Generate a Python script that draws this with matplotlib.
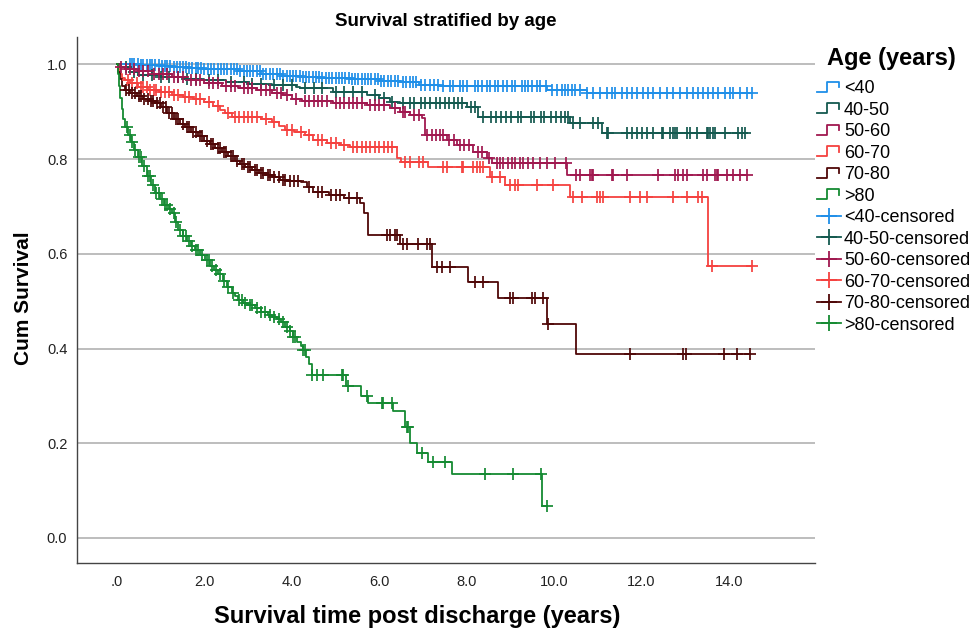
import numpy as np
import matplotlib
matplotlib.use("Agg")
import matplotlib.pyplot as plt
from matplotlib.lines import Line2D
from matplotlib.legend_handler import HandlerBase

plt.rcParams['font.family'] = ['Liberation Sans', 'DejaVu Sans']

# ---------------- data ----------------
groups = ["<40", "40-50", "50-60", "60-70", "70-80", ">80"]
colors = ["#1f8fe8", "#14594f", "#a0184f", "#f5413f", "#4f0707", "#158a32"]

# <40
t_lt40 = [0.5, 1.0, 1.26, 1.6, 2.0, 2.77, 3.3, 3.8, 4.19, 4.7, 5.33, 6.0, 6.48, 6.9, 7.39, 9.84, 10.75]
s_lt40 = [0.998, 0.996, 0.995, 0.992, 0.99, 0.987, 0.98, 0.976, 0.974, 0.971, 0.969, 0.966, 0.963, 0.957, 0.955, 0.946, 0.94]
c_lt40 = [0.3, 0.35, 0.4, 0.48, 0.55, 0.6, 0.68, 0.75, 0.8, 0.88, 0.95, 1.02, 1.1, 1.15, 1.22, 1.3, 1.38,
          1.45, 1.5, 1.58, 1.65, 1.72, 1.8, 1.85, 1.92, 2.0, 2.08, 2.15, 2.22, 2.3, 2.38, 2.45, 2.52, 2.6,
          2.68, 2.75, 2.82, 2.9, 2.98, 3.05, 3.12, 3.2, 3.28, 3.35, 3.42, 3.5, 3.58, 3.65, 3.72, 3.8, 3.88,
          3.95, 4.02, 4.1, 4.18, 4.25, 4.32, 4.4, 4.48, 4.55, 4.62, 4.7, 4.78, 4.85, 4.92, 5.0, 5.08, 5.15,
          5.22, 5.3, 5.38, 5.45, 5.52, 5.6, 5.68, 5.75, 5.82, 5.9, 5.98, 6.05, 6.12, 6.2, 6.28, 6.35, 6.42,
          6.55, 6.62, 6.7, 6.78, 6.85, 6.95, 7.05, 7.15, 7.25, 7.35, 7.46, 7.62, 7.69, 7.85, 7.92, 8.01,
          8.19, 8.26, 8.35, 8.47, 8.54, 8.65, 8.72, 8.83, 8.92, 9.04, 9.11, 9.27, 9.34, 9.41, 9.5, 9.61,
          9.68, 9.82, 9.95, 10.07, 10.18, 10.25, 10.32, 10.41, 10.48, 10.59, 10.76, 10.89, 11.05, 11.21,
          11.33, 11.4, 11.56, 11.67, 11.78, 11.9, 12.04, 12.15, 12.27, 12.43, 12.59, 12.72, 12.88, 13.04,
          13.18, 13.3, 13.41, 13.52, 13.64, 13.75, 13.91, 14.03, 14.1, 14.26, 14.42, 14.53]

# 40-50
t_40_50 = [0.1, 0.3, 0.48, 1.0, 1.5, 2.0, 2.5, 3.0, 3.55, 4.1, 4.19, 4.94, 5.72, 6.0, 6.25, 6.48, 8.0, 8.26, 10.37, 11.1]
s_40_50 = [0.995, 0.985, 0.978, 0.973, 0.97, 0.967, 0.962, 0.958, 0.957, 0.952, 0.95, 0.942, 0.936, 0.93, 0.921, 0.919, 0.91, 0.889, 0.876, 0.855]
c_40_50 = [0.2, 0.4, 0.6, 0.8, 1.0, 1.2, 1.4, 1.6, 1.8, 2.1, 2.3, 2.6, 2.9, 3.1, 3.3, 3.6, 3.8, 4.0, 4.3,
           4.5, 4.7, 5.0, 5.2, 5.4, 5.6, 5.9, 6.1, 6.3, 6.55, 6.7, 6.8, 6.95, 7.05, 7.15, 7.3, 7.4, 7.5,
           7.6, 7.7, 7.8, 7.9, 8.1, 8.2, 8.37, 8.55, 8.67, 8.78, 8.9, 9.02, 9.18, 9.25, 9.48, 9.55, 9.71,
           9.78, 9.94, 10.05, 10.16, 10.25, 10.32, 10.43, 10.59, 10.89, 11.0, 11.21, 11.23, 11.67, 11.78,
           11.9, 12.01, 12.13, 12.27, 12.47, 12.49, 12.65, 12.72, 12.77, 12.81, 13.04, 13.11, 13.27, 13.5,
           13.53, 13.57, 13.64, 13.68, 13.91, 14.21, 14.3, 14.37]

# 50-60
t_50_60 = [0.05, 0.18, 0.48, 0.8, 1.26, 1.6, 2.0, 2.4, 2.77, 3.2, 3.55, 3.8, 4.0, 4.23, 4.94, 5.72, 6.25,
           6.48, 6.7, 6.98, 7.05, 7.55, 7.78, 8.15, 8.47, 8.58, 10.3]
s_50_60 = [0.995, 0.99, 0.986, 0.98, 0.974, 0.968, 0.961, 0.955, 0.95, 0.945, 0.94, 0.935, 0.928, 0.923,
           0.919, 0.914, 0.908, 0.90, 0.893, 0.887, 0.851, 0.84, 0.83, 0.815, 0.802, 0.792, 0.767]
c_50_60 = [0.1, 0.2, 0.3, 0.4, 0.5, 0.6, 0.7, 0.85, 0.95, 1.05, 1.15, 1.3, 1.4, 1.5, 1.7, 1.8, 1.9, 2.1,
           2.2, 2.3, 2.5, 2.6, 2.7, 2.9, 3.0, 3.1, 3.3, 3.4, 3.5, 3.65, 3.75, 3.9, 4.1, 4.3, 4.4, 4.5, 4.6,
           4.7, 4.8, 5.0, 5.1, 5.2, 5.3, 5.4, 5.5, 5.6, 5.8, 5.9, 6.0, 6.1, 6.35, 6.55, 6.6, 6.8, 6.9,
           7.1, 7.2, 7.3, 7.4, 7.45, 7.6, 7.7, 7.85, 7.95, 8.05, 8.25, 8.35, 8.5, 8.7, 8.76, 8.83, 8.95,
           9.04, 9.11, 9.22, 9.29, 9.41, 9.52, 9.68, 9.84, 10.02, 10.27, 10.5, 10.59, 10.82, 10.87, 10.89,
           11.33, 11.35, 11.67, 12.38, 12.77, 12.84, 12.95, 13.04, 13.41, 13.5, 13.68, 13.73, 13.75,
           13.96, 14.1, 14.26, 14.42]

# 60-70
t_60_70 = [0.02, 0.06, 0.12, 0.18, 0.3, 0.48, 0.7, 0.95, 1.26, 1.5, 1.75, 2.0, 2.2, 2.35, 2.47, 2.63, 3.3,
           3.55, 3.7, 3.84, 4.05, 4.3, 4.49, 4.8, 5.1, 5.33, 6.4, 6.5, 7.12, 8.54, 8.88, 10.37, 13.52]
s_60_70 = [0.99, 0.98, 0.972, 0.967, 0.96, 0.952, 0.947, 0.942, 0.936, 0.931, 0.926, 0.921, 0.912, 0.904,
           0.898, 0.889, 0.884, 0.879, 0.87, 0.862, 0.857, 0.851, 0.84, 0.834, 0.829, 0.826, 0.802, 0.794,
           0.783, 0.762, 0.745, 0.72, 0.574]
c_60_70 = [0.25, 0.35, 0.45, 0.55, 0.6, 0.68, 0.75, 0.85, 0.9, 1.0, 1.1, 1.2, 1.3, 1.4, 1.55, 1.65, 1.8,
           1.9, 2.1, 2.3, 2.55, 2.7, 2.8, 2.9, 3.0, 3.1, 3.2, 3.4, 3.6, 3.9, 4.0, 4.2, 4.4, 4.6, 4.7, 4.9,
           5.0, 5.2, 5.4, 5.5, 5.6, 5.7, 5.8, 5.9, 6.0, 6.1, 6.2, 6.3, 6.6, 6.7, 6.9, 7.0, 7.46, 7.55,
           7.89, 7.92, 8.15, 8.24, 8.31, 8.38, 8.58, 8.76, 8.99, 9.11, 9.18, 9.61, 9.98, 10.43, 10.64,
           10.98, 11.05, 11.12, 11.74, 11.97, 12.13, 12.72, 13.04, 13.3, 13.39, 13.62, 14.53]

# 70-80
t_70_80 = [0.03, 0.07, 0.12, 0.18, 0.3, 0.45, 0.6, 0.75, 0.87, 1.0, 1.15, 1.3, 1.45, 1.56, 1.7, 1.85, 2.0,
           2.12, 2.24, 2.4, 2.55, 2.7, 2.82, 2.93, 3.1, 3.25, 3.4, 3.55, 3.73, 3.9, 4.2, 4.35, 4.49, 4.85,
           5.2, 5.55, 5.65, 5.74, 6.48, 7.2, 8.03, 8.72, 9.83, 10.5]
s_70_80 = [0.985, 0.97, 0.955, 0.946, 0.94, 0.934, 0.928, 0.923, 0.919, 0.91, 0.897, 0.884, 0.874, 0.868,
           0.858, 0.848, 0.838, 0.831, 0.824, 0.815, 0.806, 0.797, 0.79, 0.784, 0.777, 0.771, 0.766, 0.762,
           0.756, 0.754, 0.752, 0.741, 0.731, 0.724, 0.718, 0.707, 0.686, 0.64, 0.621, 0.572, 0.54, 0.507,
           0.452, 0.389]
c_70_80 = [0.2, 0.28, 0.35, 0.42, 0.5, 0.55, 0.62, 0.7, 0.78, 0.82, 0.92, 0.98, 1.05, 1.12, 1.2, 1.25,
           1.35, 1.4, 1.5, 1.6, 1.65, 1.75, 1.8, 1.9, 1.95, 2.05, 2.15, 2.2, 2.3, 2.35, 2.45, 2.5, 2.6,
           2.65, 2.75, 2.85, 2.9, 3.0, 3.05, 3.15, 3.2, 3.3, 3.35, 3.45, 3.5, 3.6, 3.7, 3.8, 3.85, 3.95,
           4.05, 4.15, 4.4, 4.6, 4.7, 4.9, 5.0, 5.1, 5.3, 5.5, 6.18, 6.25, 6.36, 6.41, 6.54, 6.64, 6.89,
           7.09, 7.16, 7.32, 7.44, 7.62, 8.19, 8.38, 8.99, 9.06, 9.5, 9.57, 9.75, 9.86, 11.74, 12.95,
           13.02, 13.89, 14.19, 14.49]

# >80
t_gt80 = [0.02, 0.05, 0.08, 0.11, 0.14, 0.18, 0.25, 0.33, 0.40, 0.48, 0.58, 0.68, 0.78, 0.87, 0.98, 1.08,
          1.18, 1.26, 1.33, 1.40, 1.50, 1.60, 1.70, 1.78, 1.90, 2.01, 2.12, 2.22, 2.31, 2.42, 2.52, 2.62,
          2.70, 2.77, 2.88, 3.00, 3.15, 3.30, 3.45, 3.55, 3.65, 3.75, 3.85, 3.95, 4.03, 4.12, 4.20, 4.26,
          4.33, 4.40, 4.46, 5.24, 5.58, 5.74, 6.32, 6.59, 6.70, 6.86, 7.12, 7.67, 9.72]
s_gt80 = [0.98, 0.955, 0.93, 0.905, 0.885, 0.868, 0.852, 0.836, 0.82, 0.805, 0.785, 0.765, 0.745, 0.729,
          0.715, 0.703, 0.694, 0.686, 0.668, 0.65, 0.638, 0.627, 0.617, 0.608, 0.597, 0.587, 0.575, 0.566,
          0.558, 0.543, 0.53, 0.518, 0.51, 0.503, 0.497, 0.492, 0.485, 0.478, 0.471, 0.467, 0.463, 0.456,
          0.446, 0.437, 0.425, 0.414, 0.405, 0.397, 0.383, 0.368, 0.344, 0.321, 0.30, 0.285, 0.268, 0.234,
          0.20, 0.18, 0.161, 0.135, 0.068]
c_gt80 = [0.22, 0.3, 0.35, 0.42, 0.5, 0.55, 0.62, 0.7, 0.75, 0.82, 0.9, 0.95, 1.02, 1.1, 1.15, 1.22, 1.3,
          1.36, 1.45, 1.52, 1.58, 1.65, 1.72, 1.8, 1.85, 1.95, 2.05, 2.1, 2.18, 2.26, 2.35, 2.45, 2.55,
          2.65, 2.8, 2.85, 2.92, 3.05, 3.1, 3.2, 3.3, 3.38, 3.5, 3.6, 3.7, 3.8, 3.89, 3.96, 4.03, 4.07,
          4.26, 4.30, 4.46, 4.58, 4.71, 5.15, 5.17, 5.29, 5.72, 6.06, 6.09, 6.29, 6.64, 6.66, 6.98, 7.23,
          7.51, 8.42, 9.06, 9.70, 9.84]

event_times = [t_lt40, t_40_50, t_50_60, t_60_70, t_70_80, t_gt80]
event_surv = [s_lt40, s_40_50, s_50_60, s_60_70, s_70_80, s_gt80]
censor_times = [c_lt40, c_40_50, c_50_60, c_60_70, c_70_80, c_gt80]

x_ticks = [0, 2, 4, 6, 8, 10, 12, 14]
y_ticks = [0.0, 0.2, 0.4, 0.6, 0.8, 1.0]

# ---------------- figure ----------------
fig = plt.figure(figsize=(9.75, 6.28), dpi=100)
ax = fig.add_axes([77/975, 1-563/628, (815-77)/975, (563-37)/628])

lw = 1.3
for name, col, te, se, tc in zip(groups, colors, event_times, event_surv, censor_times):
    te = np.asarray(te, float)
    se = np.asarray(se, float)
    tc = np.asarray(tc, float)
    tt = np.r_[0.0, te]
    ss = np.r_[1.0, se]
    tend = max(tt[-1], tc.max())
    ax.step(np.r_[tt, tend], np.r_[ss, ss[-1]], where='post', color=col, lw=lw, zorder=3)
    idx = np.searchsorted(tt, tc, side='right') - 1
    ax.plot(tc, ss[idx], linestyle='none', marker='+', color=col,
            markersize=8.5, markeredgewidth=1.25, zorder=4)

ax.set_xlim(-0.915, 15.97)
ax.set_ylim(-0.053, 1.058)
ax.set_xticks(x_ticks)
ax.set_xticklabels([f"{v:.1f}".lstrip('0') if v == 0 else f"{v:.1f}" for v in x_ticks])
ax.set_yticks(y_ticks)
ax.set_yticklabels([f"{v:.1f}" for v in y_ticks])
ax.tick_params(axis='both', length=0, labelsize=10.5, colors='#222222')
ax.tick_params(axis='y', pad=7)
ax.tick_params(axis='x', pad=9)
ax.yaxis.grid(True, color='#bdbdbd', lw=1.4)
ax.set_axisbelow(True)
for sp in ['top', 'right']:
    ax.spines[sp].set_visible(False)
for sp in ['left', 'bottom']:
    ax.spines[sp].set_color('#444444')
    ax.spines[sp].set_linewidth(1.0)

ax.set_title("Survival stratified by age", fontsize=13.5, fontweight='bold', pad=8)
ax.set_xlabel("Survival time post discharge (years)", fontsize=17, fontweight='bold')
ax.xaxis.set_label_coords((417-77)/738, -0.08)
ax.set_ylabel("Cum Survival", fontsize=15, fontweight='bold')
ax.yaxis.set_label_coords(-0.06, 0.504)


# ---------------- legend ----------------
class StepHandler(HandlerBase):
    def create_artists(self, legend, orig_handle, xdescent, ydescent, width, height, fontsize, trans):
        fx = np.array([0.0, 0.42, 0.42, 0.92, 0.92])
        fy = np.array([0.1, 0.1, 0.9, 0.9, 0.45])
        xs = fx * width - xdescent
        ys = fy * height - ydescent
        ln = Line2D(xs, ys, color=orig_handle.get_color(), lw=1.3)
        ln.set_transform(trans)
        return [ln]


class CensorHandler(HandlerBase):
    def create_artists(self, legend, orig_handle, xdescent, ydescent, width, height, fontsize, trans):
        xs = np.array([0.0, 0.5, 1.0]) * width - xdescent
        ys = np.full(3, 0.5 * height) - ydescent
        ln = Line2D(xs, ys, color=orig_handle.get_color(), lw=1.3,
                    marker='+', markevery=[1], markersize=11, markeredgewidth=1.3)
        ln.set_transform(trans)
        return [ln]


class StepProxy(Line2D):
    pass


class CensorProxy(Line2D):
    pass


handles = [StepProxy([], [], color=c) for c in colors] + [CensorProxy([], [], color=c) for c in colors]
labels = groups + [g + "-censored" for g in groups]
fig.text(891/975, 1-59/628, "Age (years)", ha='center', va='center',
         fontsize=17, fontweight='bold')
leg = fig.legend(handles, labels, loc='upper left', bbox_to_anchor=(817/975, 1-80/628),
                 frameon=False, fontsize=13,
                 handlelength=1.33, handletextpad=0.17, labelspacing=0.25, borderpad=0.0,
                 borderaxespad=0.0,
                 handler_map={StepProxy: StepHandler(), CensorProxy: CensorHandler()})

fig.savefig("out.png", dpi=100)
